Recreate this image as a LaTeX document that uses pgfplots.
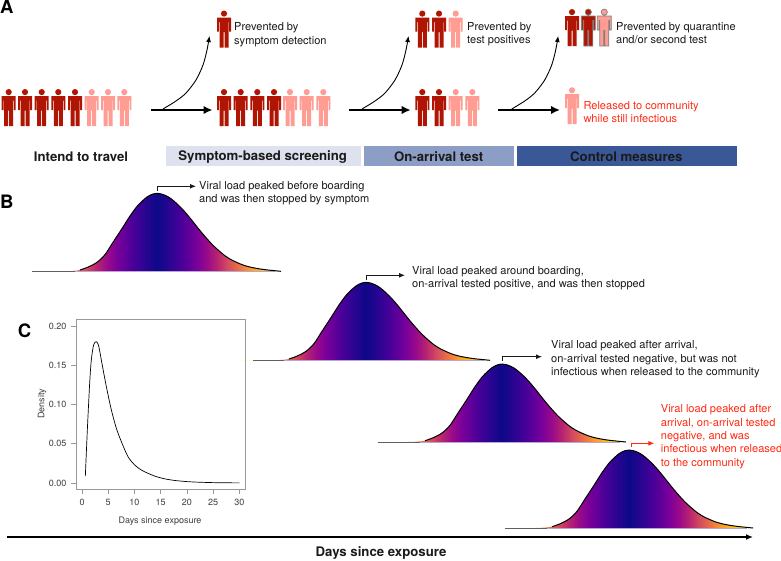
\documentclass[border=0pt]{standalone}
\usepackage{pgfplots}
\usepackage{pgfplotstable}
\usepackage{fontspec}
\setmainfont{TeX Gyre Heros}
\pgfplotsset{compat=1.18}
\usetikzlibrary{arrows.meta}

\definecolor{darkp}{HTML}{B01504}
\definecolor{lightp}{HTML}{FF9C94}
\definecolor{redtxt}{HTML}{FF2A12}
\definecolor{txt}{HTML}{1A1A1A}
\definecolor{bar1}{HTML}{DDE2EE}
\definecolor{bar2}{HTML}{8C9EC5}
\definecolor{bar3}{HTML}{3A5898}
\definecolor{lilac}{HTML}{B9A6D6}

% viral load colours, symmetric around the peak (50bp)
\definecolor{p0}{HTML}{0D0887}
\definecolor{p1}{HTML}{2A0592}
\definecolor{p2}{HTML}{4C0099}
\definecolor{p3}{HTML}{7A009A}
\definecolor{p4}{HTML}{9A0A8A}
\definecolor{p5}{HTML}{B8246F}
\definecolor{p6}{HTML}{D24A62}
\definecolor{p7}{HTML}{EE7A40}
\definecolor{p8}{HTML}{FB9A2C}
\definecolor{p9}{HTML}{FFC020}
\definecolor{p10}{HTML}{F5F010}
\pgfdeclarehorizontalshading{plasmacurve}{100bp}{
  color(0bp)=(p10); color(26.4bp)=(p10); color(29bp)=(p9); color(31.6bp)=(p8);
  color(33.2bp)=(p7); color(36bp)=(p6); color(38bp)=(p5); color(40bp)=(p4);
  color(42bp)=(p3); color(45bp)=(p2); color(47.6bp)=(p1); color(50bp)=(p0);
  color(52.4bp)=(p1); color(55bp)=(p2); color(58bp)=(p3); color(60bp)=(p4);
  color(62bp)=(p5); color(64bp)=(p6); color(66.8bp)=(p7); color(68.4bp)=(p8);
  color(71bp)=(p9); color(73.6bp)=(p10); color(100bp)=(p10)}

\tikzset{
  smalltxt/.style={font=\fontsize{11.05}{13.3}\selectfont, inner sep=0pt, anchor=west, align=left, text=txt},
  bigtxt/.style={font=\fontsize{13.2}{15}\selectfont\bfseries, inner sep=0pt, anchor=center, text=txt},
  paneltxt/.style={font=\fontsize{18.5}{20}\selectfont\bfseries, inner sep=0pt, anchor=west, text=black},
  flow/.style={black, line width=1.8pt, -{Latex[length=9pt,width=8.5pt]}},
  branch/.style={black, line width=0.9pt, smooth, -{Latex[length=6pt,width=5pt]}},
  peakarrow/.style={line width=0.9pt, -{Latex[length=6pt,width=5pt]}},
}

% people
\def\pp#1#2{\pgfqpoint{#1pt}{#2pt}}
\def\personpath{%
  \pgfpathcircle{\pp{0}{15.4}}{3.1pt}%
  \pgfsetcornersarced{\pp{1}{1}}%
  \pgfpathmoveto{\pp{-7}{-2.5}}%
  \pgfpathlineto{\pp{-7}{11.5}}\pgfpathlineto{\pp{7}{11.5}}%
  \pgfpathlineto{\pp{7}{-2.5}}\pgfpathlineto{\pp{5.2}{-2.5}}%
  \pgfpathlineto{\pp{5.2}{7}}\pgfpathlineto{\pp{4.5}{7}}%
  \pgfpathlineto{\pp{4.5}{-18.5}}\pgfpathlineto{\pp{0.5}{-18.5}}%
  \pgfpathlineto{\pp{0.5}{-3}}\pgfpathlineto{\pp{-0.5}{-3}}%
  \pgfpathlineto{\pp{-0.5}{-18.5}}\pgfpathlineto{\pp{-4.5}{-18.5}}%
  \pgfpathlineto{\pp{-4.5}{7}}\pgfpathlineto{\pp{-5.2}{7}}%
  \pgfpathlineto{\pp{-5.2}{-2.5}}\pgfpathclose
  \pgfsetcornersarced{\pgfpointorigin}}
\pgfdeclareplotmark{person}{\personpath\pgfusepathqfill}
\pgfdeclareplotmark{personline}{\personpath\pgfusepathqfillstroke}

\pgfplotstableread{
dx h
-125 0
-95 0
-86 0.3
-77 1.3
-69 4.2
-60 9
-52 16.7
-44 29
-35 42.7
-27 55.3
-19 66
-10 74.3
-4 77.3
0 78
4 77.4
9 75.6
14 72.6
20 67.5
26 61.5
32 54.5
38 47
44 39.5
50 32.5
56 26
62 20.5
68 15.5
74 11.7
80 8.8
86 6.3
92 4.5
98 3.2
104 2.2
110 1.4
116 0.8
124 0
125 0
}\viral

% #1 peak x, #2 baseline y, #3 left end of the flat line, #4 its right end,
% #5 left end of the black line, #6 its right end, #7 right end of the lilac base
\newcommand\viralcurve[7]{
  \addplot[draw=none, shade, shading=plasmacurve, smooth]
    table[x expr=\thisrow{dx}+#1, y expr=#2-\thisrow{h}] {\viral} -- cycle;
  \addplot[color=gray!75!black, line width=0.7pt] coordinates {(#3,#2) (#4,#2)};
  \addplot[color=lilac, line width=0.5pt] coordinates {(#4,#2) (#7,#2)};
  \addplot[black, line width=1pt, smooth, restrict x to domain=#5:#6]
    table[x expr=\thisrow{dx}+#1, y expr=#2-\thisrow{h}] {\viral};
}

\begin{document}
\begin{tikzpicture}
\path[use as bounding box] (0,0) rectangle (781pt,560pt);
\begin{axis}[
  at={(0pt,0pt)}, anchor=south west,
  scale only axis, width=781pt, height=560pt,
  xmin=0, xmax=781, ymin=0, ymax=560, y dir=reverse,
  axis lines=none, clip=false,
]
% bars
\addplot[draw=none, fill=bar1] coordinates {(166,146) (361,146) (361,166.3) (166,166.3)} -- cycle;
\addplot[draw=none, fill=bar2] coordinates {(364,146) (514,146) (514,166.3) (364,166.3)} -- cycle;
\addplot[draw=none, fill=bar3] coordinates {(516.7,146) (736.7,146) (736.7,166.3) (516.7,166.3)} -- cycle;

% people
\addplot[only marks, mark=person, mark options={fill=darkp}] coordinates {
  (8.7,107.5) (25,107.5) (41.7,107.5) (58.3,107.5) (75,107.5)
  (224,107.5) (240.7,107.5) (257.3,107.5) (274,107.5)
  (422.3,107.5) (439,107.5)
  (224,29) (422.3,29) (439,29) (572,27.5)};
\addplot[only marks, mark=person, mark options={fill=lightp}] coordinates {
  (91.7,107.5) (108,107.5) (124.3,107.5)
  (290,107.5) (306.7,107.5) (323.3,107.5)
  (455.7,107.5) (472.3,107.5)
  (455.7,29) (572,105.7)};
\addplot[only marks, mark=personline, mark options={fill=darkp, draw=gray, line width=0.7pt}] coordinates {(588.3,27.5)};
\addplot[only marks, mark=personline, mark options={fill=lightp, draw=gray, line width=0.7pt}] coordinates {(604.3,27.5)};

% flow arrows
\addplot[flow] coordinates {(151,110) (212.5,110)};
\addplot[flow] coordinates {(349,110) (410.7,110)};
\addplot[flow] coordinates {(498,110) (560,110)};
\addplot[branch] coordinates {(163,109) (176,101) (186,93) (196,80) (203,65) (207,50) (209.5,36)};
\addplot[branch] coordinates {(362,109) (375,101) (385,93) (395,80) (402,65) (406,50) (408.5,36)};
\addplot[branch] coordinates {(511.7,109) (524.7,101) (534.7,93) (544.7,80) (551.7,65) (555.7,50) (558.2,36)};

\node[smalltxt] at (234,34.7) {Prevented by\\symptom detection};
\node[smalltxt] at (467,34) {Prevented by\\test positives};
\node[smalltxt] at (616,33.4) {Prevented by quarantine\\and/or second test};
\node[smalltxt, text=redtxt] at (583.3,112) {Released to community\\while still infectious};

\node[bigtxt] at (81,157) {Intend to travel};
\node[bigtxt] at (262.7,157) {Symptom-based screening};
\node[bigtxt] at (438.7,157) {On-arrival test};
\node[bigtxt] at (626.3,157) {Control measures};
\node[paneltxt] at (0,7) {A};
\node[paneltxt] at (0,201.7) {B};
\node[paneltxt] at (17.7,330.7) {C};

% viral load curves
\viralcurve{157}{271.3}{32}{75}{72}{281}{275}
\viralcurve{366}{360.3}{253}{284}{281}{490}{484}
\viralcurve{502}{442}{378}{420}{417}{626}{620}
\viralcurve{629}{528}{505}{547}{544}{753}{747}

\addplot[peakarrow, color=txt] coordinates {(157,190.5) (157,186.3) (196,186.3)};
\addplot[peakarrow, color=txt] coordinates {(366,279.5) (366,275.3) (405,275.3)};
\addplot[peakarrow, color=txt] coordinates {(502,360.7) (502,356.7) (542,356.7)};
\addplot[peakarrow, color=redtxt] coordinates {(631,447) (631,443.3) (654.3,443.3)};

\node[smalltxt] at (199,193.3) {Viral load peaked before boarding\\and was then stopped by symptom};
\node[smalltxt] at (412,278.3) {Viral load peaked around boarding,\\on-arrival tested positive, and was then stopped};
\node[smalltxt] at (551,359.3) {Viral load peaked after arrival,\\on-arrival tested negative, but was not\\infectious when released to the community};
\node[smalltxt, text=redtxt] at (660.7,436.7) {Viral load peaked after\\arrival, on-arrival tested\\negative, and was\\infectious when released\\to the community};

% time axis
\addplot[black, line width=1.5pt, -{Latex[length=7pt,width=6pt]}] coordinates {(7,537) (753,537)};
\node[bigtxt] at (381,553) {Days since exposure};
\end{axis}

\begin{axis}[
  at={(76pt,70.7pt)}, anchor=south west,
  scale only axis, width=169.7pt, height=170pt,
  xmin=-1.144, xmax=31.2, ymin=-0.008, ymax=0.2085,
  xtick={0,5,...,30}, ytick={0,0.05,0.10,0.15,0.20},
  tick align=outside, tick pos=left, major tick length=5pt,
  tick style={color=gray!80, line width=0.6pt},
  axis line style={color=gray!80, line width=0.8pt},
  scaled y ticks=false,
  /pgf/number format/assume math mode=true,
  ticklabel style={font=\fontsize{9}{10}\selectfont, text=txt!85},
  yticklabel style={/pgf/number format/fixed, /pgf/number format/fixed zerofill, /pgf/number format/precision=2, xshift=-1pt},
  xticklabel style={yshift=-1pt},
  xlabel={Days since exposure}, ylabel={Density},
  label style={font=\fontsize{9}{10}\selectfont, text=txt!85},
  xlabel style={at={(axis description cs:0.495,-0.19)}, anchor=center},
  ylabel style={at={(axis description cs:-0.2,0.502)}, anchor=center},
]
\addplot[black, line width=0.7pt, smooth] table {
0.636 0.0089
1.017 0.0675
1.46 0.127
1.78 0.157
2.22 0.176
2.73 0.18
3.18 0.1745
3.81 0.152
4.64 0.1227
5.6 0.093
6.55 0.0696
7.5 0.0527
8.77 0.0335
10.04 0.023
11.3 0.0166
12.6 0.0123
14 0.0085
15 0.0066
16 0.005
17 0.0039
18 0.003
20 0.0018
22 0.0011
25 0.0005
27 0.0003
30 0.00015
};
\end{axis}
\end{tikzpicture}
\end{document}
